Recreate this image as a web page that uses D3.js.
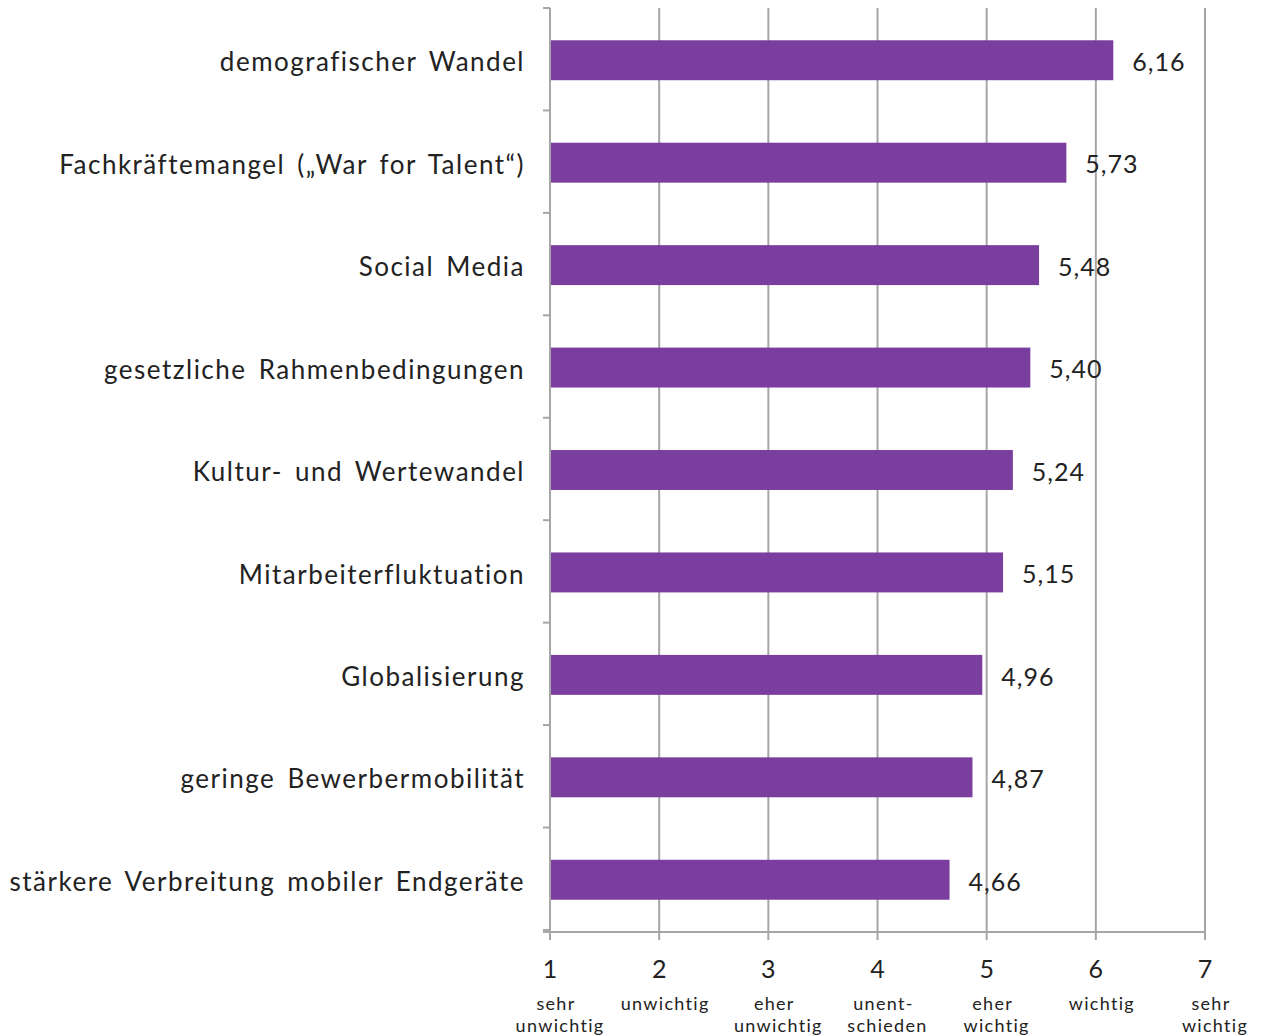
<!DOCTYPE html>
<html>
<head>
<meta charset="utf-8">
<script src="https://cdn.jsdelivr.net/npm/d3@7"></script>
<style>
  body { margin: 0; background: #fff; }
  svg { display: block; font-family: Lato, "Open Sans", sans-serif; }
</style>
</head>
<body>
<div id="chart"></div>
<script>
// categories top to bottom
const categories = [
    'demografischer Wandel',
    'Fachkräftemangel („War for Talent“)',
    'Social Media',
    'gesetzliche Rahmenbedingungen',
    'Kultur- und Wertewandel',
    'Mitarbeiterfluktuation',
    'Globalisierung',
    'geringe Bewerbermobilität',
    'stärkere Verbreitung mobiler Endgeräte'
];
const values = [6.16, 5.73, 5.48, 5.40, 5.24, 5.15, 4.96, 4.87, 4.66];
const tickValues = [1, 2, 3, 4, 5, 6, 7];
const tickSubLabels = [
    ['sehr', 'unwichtig'],
    ['unwichtig'],
    ['eher', 'unwichtig'],
    ['unent-', 'schieden'],
    ['eher', 'wichtig'],
    ['wichtig'],
    ['sehr', 'wichtig']
];

const width = 1262;
const height = 1036;
const margin = {top: 8, right: 57, bottom: 104, left: 550};
const barColor = '#7a3e9f';
const gridColor = '#a6a6a6';
const textColor = '#222';

const svg = d3.select('#chart')
    .append('svg')
    .attr('width', width)
    .attr('height', height);

const x = d3.scaleLinear()
    .domain([1, 7])
    .range([margin.left, width - margin.right]);

const y = d3.scaleBand()
    .domain(categories)
    .range([margin.top, height - margin.bottom])
    .paddingInner(0.61)
    .paddingOuter(0.315);

const yBottom = height - margin.bottom;

// vertical grid lines
svg.append('g')
    .selectAll('line')
    .data(tickValues.slice(1))
    .join('line')
    .attr('x1', d => x(d))
    .attr('x2', d => x(d))
    .attr('y1', margin.top)
    .attr('y2', yBottom + 8)
    .attr('stroke', gridColor)
    .attr('stroke-width', 2);

// category separators on the y axis
const step = y.step();
const bounds = d3.range(categories.length + 1).map(i => margin.top + i * step);
svg.append('g')
    .selectAll('line')
    .data(bounds)
    .join('line')
    .attr('x1', x(1) - 7)
    .attr('x2', x(1))
    .attr('y1', d => d)
    .attr('y2', d => d)
    .attr('stroke', gridColor)
    .attr('stroke-width', 2);

// y axis line
svg.append('line')
    .attr('x1', x(1)).attr('x2', x(1))
    .attr('y1', margin.top).attr('y2', yBottom + 8)
    .attr('stroke', gridColor)
    .attr('stroke-width', 2);

// x axis line
svg.append('line')
    .attr('x1', x(1) - 7).attr('x2', x(7))
    .attr('y1', yBottom).attr('y2', yBottom)
    .attr('stroke', gridColor)
    .attr('stroke-width', 2);

// bars
svg.append('g')
    .selectAll('rect')
    .data(values)
    .join('rect')
    .attr('x', x(1) + 1)
    .attr('y', (d, i) => y(categories[i]))
    .attr('width', d => x(d) - x(1) - 1)
    .attr('height', y.bandwidth())
    .attr('fill', barColor);

// value labels
svg.append('g')
    .selectAll('text')
    .data(values)
    .join('text')
    .attr('x', d => x(d) + 19)
    .attr('y', (d, i) => y(categories[i]) + y.bandwidth() / 2 + 2)
    .attr('dy', '0.35em')
    .attr('fill', textColor)
    .style('font-size', '25px')
    .style('letter-spacing', '1px')
    .text(d => d3.format('.2f')(d).replace('.', ','));

// category labels
svg.append('g')
    .selectAll('text')
    .data(categories)
    .join('text')
    .attr('x', x(1) - 25)
    .attr('y', d => y(d) + y.bandwidth() / 2 + 2)
    .attr('dy', '0.35em')
    .attr('text-anchor', 'end')
    .attr('fill', textColor)
    .style('font-size', '26px')
    .style('letter-spacing', '1.5px')
    .style('word-spacing', '4px')
    .text(d => d);

// tick numbers
svg.append('g')
    .selectAll('text')
    .data(tickValues)
    .join('text')
    .attr('x', d => x(d))
    .attr('y', 978)
    .attr('text-anchor', 'middle')
    .attr('fill', textColor)
    .style('font-size', '25px')
    .text(d => d);

// tick sub labels
const sub = svg.append('g')
    .selectAll('text')
    .data(tickValues)
    .join('text')
    .attr('y', 1010)
    .attr('text-anchor', 'middle')
    .attr('fill', textColor)
    .style('font-size', '18px')
    .style('letter-spacing', '1.3px');

sub.selectAll('tspan')
    .data((d, i) => tickSubLabels[i].map((t, j) => ({t, v: d, j})))
    .join('tspan')
    .attr('x', d => x(d.v) + (d.j === 0 ? 6 : 10))
    .attr('dy', d => d.j === 0 ? 0 : 22)
    .text(d => d.t);
</script>
</body>
</html>
